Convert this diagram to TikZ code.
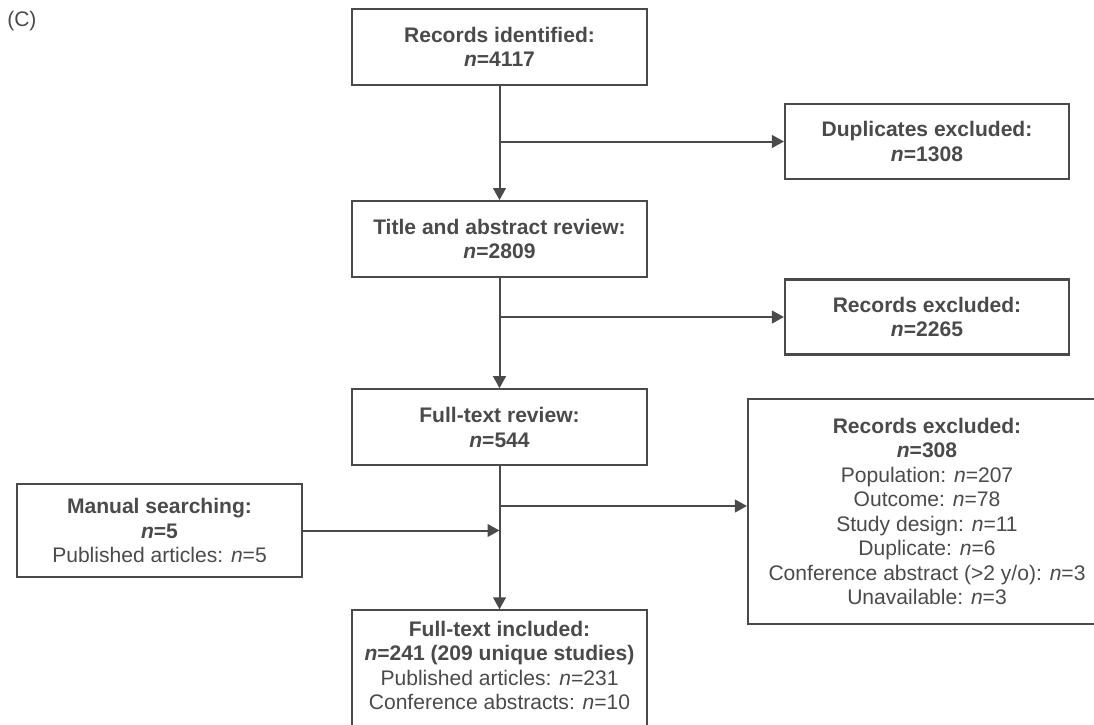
\documentclass[tikz,border=0pt]{standalone}
\usepackage{fontspec}
\setmainfont{Liberation Sans}
\usepackage{xcolor}
\usepackage{tikz}
\usetikzlibrary{arrows.meta, positioning}

\definecolor{flowgray}{HTML}{4A4A4A}
\newcommand{\nn}{\textit{n}}

\begin{document}
\begin{tikzpicture}[
  x=0.75pt, y=-0.75pt,
  every node/.style={font=\fontsize{15.8}{18.4}\selectfont, text=flowgray},
  block/.style={draw=flowgray, line width=1.6pt, rectangle, align=center, minimum width=221.25pt, minimum height=57pt},
  sidebox/.style={block, minimum width=213pt, minimum height=56.25pt},
  arr/.style={-{Triangle[length=9pt, width=9.5pt]}, draw=flowgray, line width=1.5pt}
]
\useasboundingbox (0,0) rectangle (1094,724);
\node[anchor=west, inner sep=0pt] (tag) at (7,21) {(C)};

\node[block] (rec) at (499.5,47) {\textbf{Records identified:}\\\textbf{\nn=4117}};
\node[block, below=85.5pt of rec] (tar) {\textbf{Title and abstract review:}\\\textbf{\nn=2809}};
\node[block, below=82.5pt of tar] (ftr) {\textbf{Full-text review:}\\\textbf{\nn=544}};
\node[block, below=107.25pt of ftr, inner ysep=8pt, text depth=22pt] (inc) {\textbf{Full-text included:}\\\textbf{\nn=241 (209 unique studies)}\\Published articles: \nn=231\\Conference abstracts: \nn=10};

\node[sidebox] (dup) at (927,141.5) {\textbf{Duplicates excluded:}\\\textbf{\nn=1308}};
\node[sidebox] (exa) at (927,317) {\textbf{Records excluded:}\\\textbf{\nn=2265}};
\node[block, minimum width=268.5pt, minimum height=168.75pt] (exb) at (927,511.5) {\textbf{Records excluded:}\\\textbf{\nn=308}\\Population: \nn=207\\Outcome: \nn=78\\Study design: \nn=11\\Duplicate: \nn=6\\Conference abstract (>2 y/o): \nn=3\\Unavailable: \nn=3};
\node[block, minimum width=213.75pt, minimum height=69.75pt] (man) at (159.5,530.5) {\textbf{Manual searching:}\\\textbf{\nn=5}\\Published articles: \nn=5};

\coordinate (cut) at (499.5,506);

\draw[arr] (rec) -- (tar);
\draw[arr] (tar) -- (ftr);
\draw[arr] (ftr) -- (inc);
\draw[arr] (rec.south |- dup.west) -- (dup.west);
\draw[arr] (tar.south |- exa.west) -- (exa.west);
\draw[arr] (cut) -- (cut -| exb.west);
\draw[arr] (man.east) -- (ftr.south |- man.east);
\end{tikzpicture}
\end{document}
